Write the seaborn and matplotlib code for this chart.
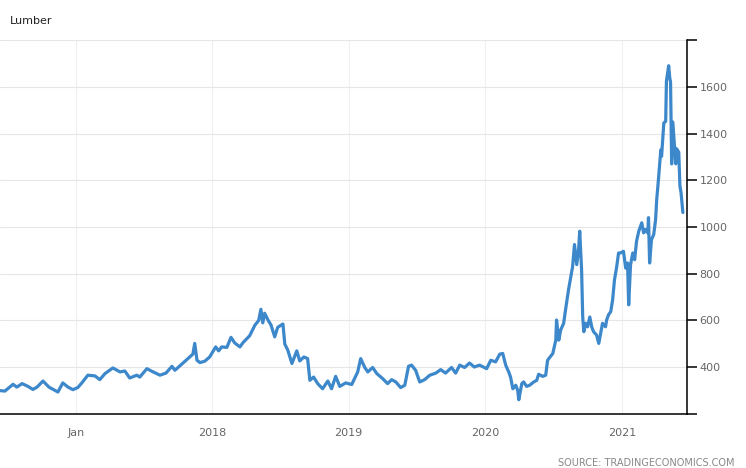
import pandas as pd
import matplotlib.pyplot as plt
import matplotlib.dates as mdates
import seaborn as sns

# === Data ===
dates = [
    "2016-06-12", "2016-06-25", "2016-07-17", "2016-07-27", "2016-08-10", "2016-08-26",
    "2016-09-08", "2016-09-19", "2016-10-05", "2016-10-21", "2016-11-06", "2016-11-14",
    "2016-11-27", "2016-12-11", "2016-12-24", "2017-01-06", "2017-01-17", "2017-02-02",
    "2017-02-21", "2017-03-06", "2017-03-20", "2017-04-10", "2017-04-29", "2017-05-12",
    "2017-05-25", "2017-06-13", "2017-06-21", "2017-07-10", "2017-07-23", "2017-08-14",
    "2017-08-30", "2017-09-15", "2017-09-23", "2017-10-11", "2017-10-28", "2017-11-10",
    "2017-11-15", "2017-11-21", "2017-11-29", "2017-12-12", "2017-12-25", "2018-01-10",
    "2018-01-18", "2018-01-26", "2018-02-09", "2018-02-20", "2018-03-02", "2018-03-16",
    "2018-03-24", "2018-04-11", "2018-04-25", "2018-05-05", "2018-05-11", "2018-05-16",
    "2018-05-21", "2018-05-30", "2018-06-07", "2018-06-17", "2018-06-25", "2018-07-09",
    "2018-07-14", "2018-07-22", "2018-08-02", "2018-08-15", "2018-08-23", "2018-09-03",
    "2018-09-13", "2018-09-19", "2018-09-29", "2018-10-10", "2018-10-23", "2018-11-06",
    "2018-11-16", "2018-11-27", "2018-12-08", "2018-12-24", "2019-01-09", "2019-01-25",
    "2019-02-02", "2019-02-13", "2019-02-21", "2019-03-06", "2019-03-17", "2019-04-02",
    "2019-04-15", "2019-04-26", "2019-05-07", "2019-05-20", "2019-05-31", "2019-06-10",
    "2019-06-18", "2019-06-29", "2019-07-10", "2019-07-23", "2019-08-06", "2019-08-22",
    "2019-09-04", "2019-09-17", "2019-10-03", "2019-10-14", "2019-10-25", "2019-11-07",
    "2019-11-20", "2019-12-03", "2019-12-17", "2020-01-05", "2020-01-16", "2020-01-29",
    "2020-02-09", "2020-02-17", "2020-02-25", "2020-03-04", "2020-03-09", "2020-03-15",
    "2020-03-23", "2020-03-28", "2020-03-31", "2020-04-08", "2020-04-13", "2020-04-21",
    "2020-04-29", "2020-05-10", "2020-05-18", "2020-05-23", "2020-06-03", "2020-06-11",
    "2020-06-16", "2020-06-24", "2020-06-30", "2020-07-08", "2020-07-10", "2020-07-16",
    "2020-07-21", "2020-07-29", "2020-08-03", "2020-08-11", "2020-08-19", "2020-08-22",
    "2020-08-27", "2020-09-02", "2020-09-07", "2020-09-10", "2020-09-15", "2020-09-18",
    "2020-09-21", "2020-09-26", "2020-10-01", "2020-10-07", "2020-10-12", "2020-10-17",
    "2020-10-25", "2020-10-31", "2020-11-05", "2020-11-10", "2020-11-18", "2020-11-21",
    "2020-11-26", "2020-12-02", "2020-12-07", "2020-12-12", "2020-12-18", "2020-12-23",
    "2020-12-28", "2021-01-05", "2021-01-11", "2021-01-16", "2021-01-19", "2021-01-24",
    "2021-01-30", "2021-02-04", "2021-02-09", "2021-02-15", "2021-02-23", "2021-02-28",
    "2021-03-05", "2021-03-11", "2021-03-13", "2021-03-16", "2021-03-21", "2021-03-27",
    "2021-04-01", "2021-04-04", "2021-04-07", "2021-04-15", "2021-04-17", "2021-04-23",
    "2021-04-28", "2021-04-30", "2021-05-06", "2021-05-09", "2021-05-11", "2021-05-14",
    "2021-05-17", "2021-05-22", "2021-05-25", "2021-05-27", "2021-06-02", "2021-06-05",
    "2021-06-08", "2021-06-13",
]
prices = [
    300, 298, 327, 315, 330, 318,
    305, 315, 341, 315, 301, 294,
    333, 315, 304, 313, 333, 366,
    363, 347, 373, 397, 380, 384,
    354, 366, 358, 394, 383, 366,
    375, 404, 387, 413, 437, 456,
    502, 430, 420, 426, 444, 487,
    470, 487, 485, 528, 504, 487,
    505, 535, 580, 600, 648, 590,
    631, 602, 581, 530, 571, 585,
    499, 473, 416, 470, 427, 444,
    437, 344, 358, 330, 308, 341,
    308, 361, 318, 333, 326, 380,
    437, 399, 380, 399, 373, 351,
    330, 347, 337, 313, 323, 404,
    409, 387, 337, 347, 366, 375,
    390, 375, 399, 375, 409, 399,
    418, 401, 409, 394, 430, 423,
    456, 459, 409, 380, 358, 308,
    323, 301, 261, 330, 337, 318,
    323, 337, 344, 370, 361, 366,
    430, 447, 459, 516, 602, 516,
    559, 588, 645, 731, 803, 831,
    925, 839, 903, 982, 817, 615,
    552, 588, 573, 615, 573, 552,
    538, 502, 545, 588, 573, 602,
    624, 638, 688, 774, 831, 889,
    889, 896, 824, 846, 667, 839,
    889, 860, 939, 982, 1018, 975,
    989, 975, 1040, 846, 946, 968,
    1032, 1118, 1172, 1330, 1302, 1445,
    1452, 1624, 1690, 1636, 1621, 1270,
    1449, 1335, 1270, 1335, 1320, 1177,
    1148, 1062,
]
year_ticks = ["2017-01-01", "2018-01-01", "2019-01-01", "2020-01-01", "2021-01-01"]
year_labels = ["Jan", "2018", "2019", "2020", "2021"]
y_ticks = [200, 400, 600, 800, 1000, 1200, 1400, 1600, 1800]
y_labels = ["", "400", "600", "800", "1000", "1200", "1400", "1600", ""]

df = pd.DataFrame({"date": pd.to_datetime(dates), "price": prices})

# === Style ===
sns.set_style("white")
plt.rcParams["font.family"] = ["DejaVu Sans"]

fig = plt.figure(figsize=(7.46, 4.68), dpi=100)
ax = fig.add_axes([0.0, 0.1154, 0.9209, 0.7991])

# === Plot ===
sns.lineplot(data=df, x="date", y="price", ax=ax, color="#3d88cb", linewidth=2.3)

ax.set_xlim(pd.Timestamp("2016-06-12"), pd.Timestamp("2021-06-24"))
ax.set_ylim(200, 1800)

ax.set_xticks(pd.to_datetime(year_ticks))
ax.set_xticklabels(year_labels)
ax.set_yticks(y_ticks)
ax.set_yticklabels(y_labels)
ax.yaxis.tick_right()
ax.set_xlabel("")
ax.set_ylabel("")

ax.tick_params(axis="x", length=0, pad=10, labelsize=8, labelcolor="#666666")
ax.tick_params(axis="y", length=7, width=1.1, color="black", pad=2,
               labelsize=8, labelcolor="#666666")

ax.grid(axis="y", color="#e6e6e6", linewidth=0.8)
ax.grid(axis="x", color="#edf0f4", linewidth=0.8)
ax.set_axisbelow(True)

for side in ["top", "left"]:
    ax.spines[side].set_visible(False)
ax.spines["right"].set_color("black")
ax.spines["right"].set_linewidth(1.1)
ax.spines["bottom"].set_color("black")
ax.spines["bottom"].set_linewidth(1.1)

fig.text(10 / 746, 1 - 21 / 468, "Lumber", fontsize=8, color="#222222", va="center", ha="left")
fig.text(735 / 746, 1 - 463 / 468, "SOURCE: TRADINGECONOMICS.COM", fontsize=7,
         color="#888888", va="center", ha="right")

fig.savefig("out.png", dpi=100)
plt.close()
